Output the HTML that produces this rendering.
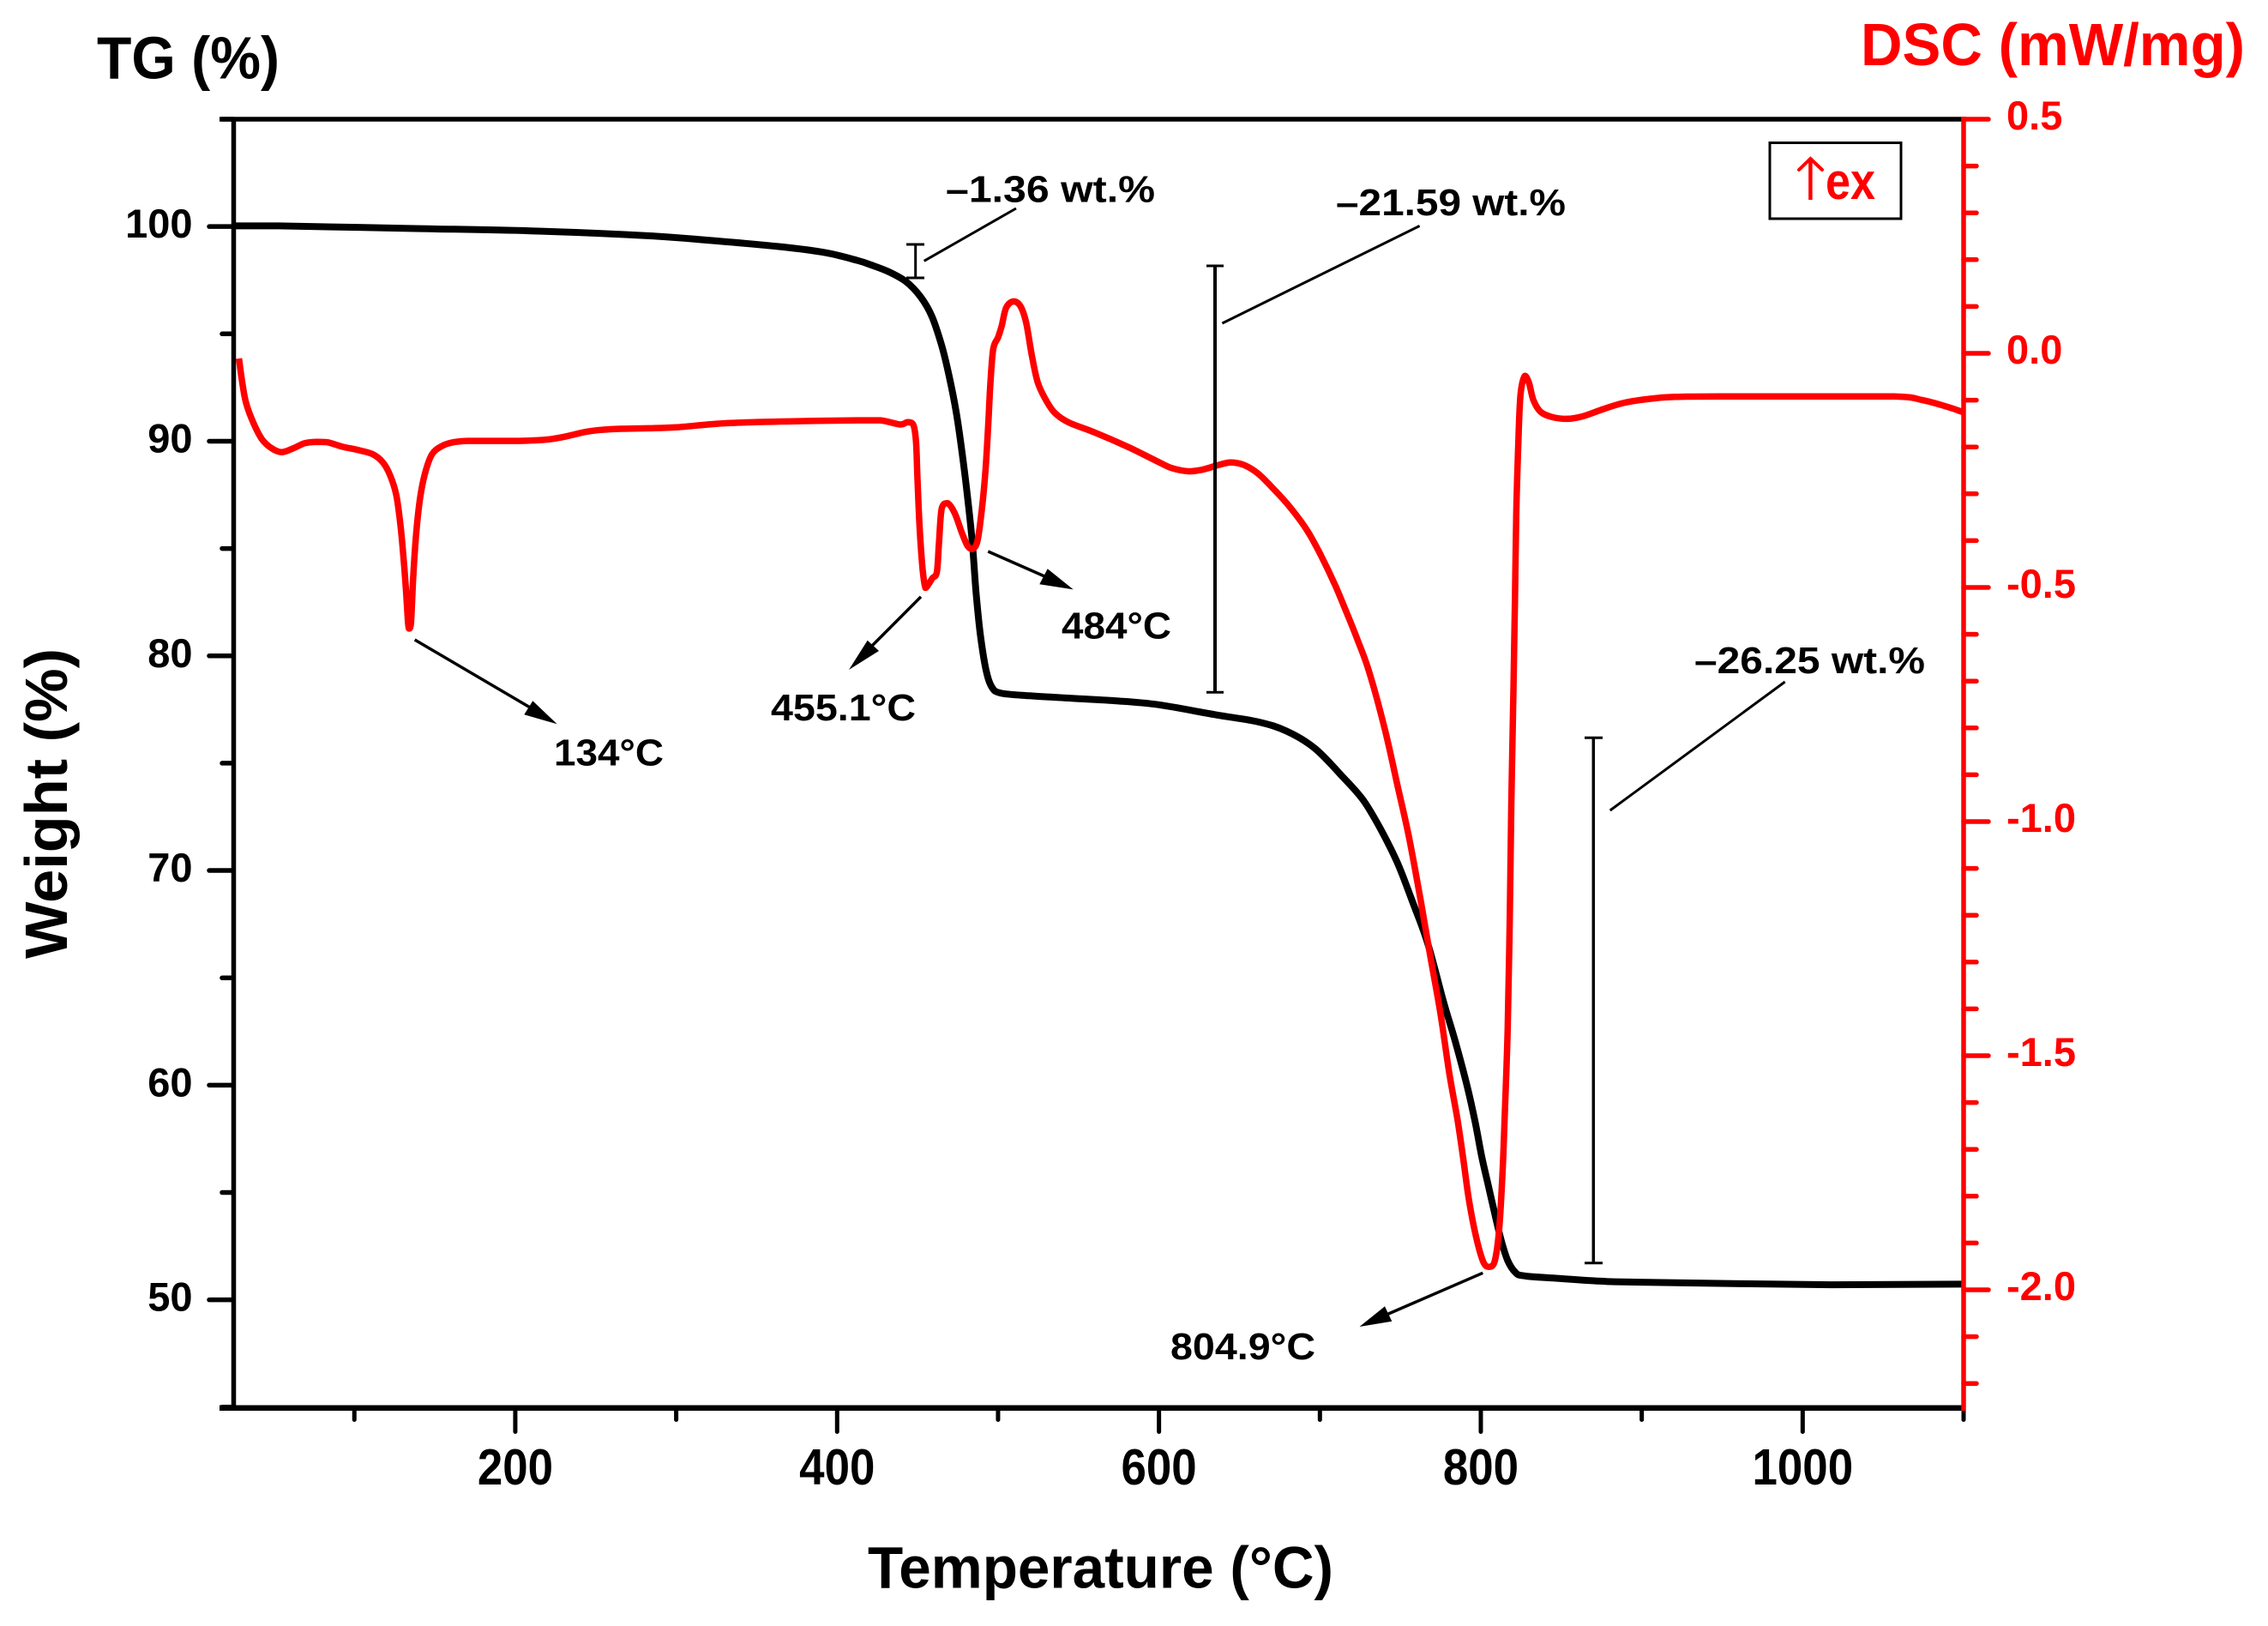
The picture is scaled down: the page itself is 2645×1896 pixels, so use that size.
<!DOCTYPE html>
<html lang="en">
<head>
<meta charset="utf-8">
<title>TG and DSC curves</title>
<style>
  html, body { margin: 0; padding: 0; background: #fff; }
  svg { display: block; }
  text { font-family: "Liberation Sans", sans-serif; font-weight: bold; }
</style>
</head>
<body>
<svg id="chart" xmlns="http://www.w3.org/2000/svg" width="2645" height="1896" viewBox="0 0 2645 1896">
  <rect x="0" y="0" width="2645" height="1896" fill="#fff"/>

  <g id="series-layer"></g>
  <g id="axis-layer"></g>

  <text x="113" y="91.5" font-size="70" textLength="213" lengthAdjust="spacingAndGlyphs" fill="#000">TG (%)</text>
  <text x="2170" y="76" font-size="70" textLength="448" lengthAdjust="spacingAndGlyphs" fill="#f00">DSC (mW/mg)</text>
  <text transform="translate(78 1118) rotate(-90)" font-size="70" textLength="362" lengthAdjust="spacingAndGlyphs" fill="#000">Weight (%)</text>
  <text x="1012" y="1851.5" font-size="69" textLength="543" lengthAdjust="spacingAndGlyphs" fill="#000">Temperature (°C)</text>

  <g>
    <rect x="2064" y="166.5" width="153" height="88.5" fill="#fff" stroke="#000" stroke-width="3"/>
    <polyline points="2111.4,233 2111.4,185" fill="none" stroke="#f00" stroke-width="4.5"/>
    <polyline points="2098,198 2111.4,185 2125,198" fill="none" stroke="#f00" stroke-width="4" stroke-linecap="round"/>
    <text x="2129" y="232" font-size="60" textLength="58" lengthAdjust="spacingAndGlyphs" fill="#f00">ex</text>
  </g>

  <g stroke="#000" fill="none">
    <g stroke-width="3">
      <line x1="1067.7" y1="285" x2="1067.7" y2="324"/>
      <line x1="1057" y1="285" x2="1078" y2="285"/>
      <line x1="1057" y1="324" x2="1078" y2="324"/>
      <line x1="1077.7" y1="304.3" x2="1185" y2="243"/>
    </g>
    <g>
      <line stroke-width="4" x1="1417" y1="310" x2="1417" y2="807.3"/>
      <line stroke-width="3" x1="1407" y1="310" x2="1427" y2="310"/>
      <line stroke-width="3" x1="1407" y1="807.3" x2="1427" y2="807.3"/>
      <line stroke-width="3" x1="1425.4" y1="377" x2="1655.6" y2="263.4"/>
    </g>
    <g>
      <line stroke-width="3.5" x1="1858.3" y1="860.3" x2="1858.3" y2="1472.7"/>
      <line stroke-width="3" x1="1848" y1="860.3" x2="1869" y2="860.3"/>
      <line stroke-width="3" x1="1848" y1="1472.7" x2="1869" y2="1472.7"/>
      <line stroke-width="3" x1="1877.7" y1="945" x2="2081.7" y2="795"/>
    </g>
  </g>
  <g fill="#000" font-size="44">
    <text x="1103" y="235.7" textLength="244" lengthAdjust="spacingAndGlyphs">–1.36 wt.%</text>
    <text x="1558" y="251" textLength="268" lengthAdjust="spacingAndGlyphs">–21.59 wt.%</text>
    <text x="1976" y="785" textLength="269" lengthAdjust="spacingAndGlyphs">–26.25 wt.%</text>
  </g>

  <g>
    <g>
      <line x1="483.7" y1="746" x2="625" y2="829" stroke="#000" stroke-width="3.5"/>
      <polygon points="649.7,844.3 621.3,817.3 611.3,833.3" fill="#000"/>
    </g>
    <g>
      <line x1="1074" y1="695.8" x2="1010" y2="760" stroke="#000" stroke-width="3.5"/>
      <polygon points="990,781 1011.7,746.7 1025,759" fill="#000"/>
    </g>
    <g>
      <line x1="1152.3" y1="643" x2="1225" y2="675" stroke="#000" stroke-width="3.5"/>
      <polygon points="1251.7,687.4 1221.7,663.3 1212.3,681.3" fill="#000"/>
    </g>
    <g>
      <line x1="1729.3" y1="1484.3" x2="1610" y2="1536" stroke="#000" stroke-width="3.5"/>
      <polygon points="1585.5,1547 1615,1523.3 1623.3,1540.7" fill="#000"/>
    </g>
  </g>
  <g fill="#000" font-size="44">
    <text x="646" y="892.3" textLength="128" lengthAdjust="spacingAndGlyphs">134°C</text>
    <text x="899" y="840" textLength="169" lengthAdjust="spacingAndGlyphs">455.1°C</text>
    <text x="1238" y="744.3" textLength="128" lengthAdjust="spacingAndGlyphs">484°C</text>
    <text x="1365" y="1585" textLength="169" lengthAdjust="spacingAndGlyphs">804.9°C</text>
  </g>
</svg>

<script>
// ---- data ----
var tgTemperature = [25,27.6,53,134.7,209.4,280.8,321.5,365.8,392.9,412.6,421.5,432.2,442.9,451.7,458.8,465,469.5,473.9,477.5,481,484,486.3,489,492.6,496.1,501.5,519.2,545.9,572.5,599.1,634.7,661.3,679.1,696.7,714.6,727,737.7,748.3,757.2,767,776.6,783.9,791,796.3,800.7,805.2,809.6,813.2,816.7,821.2,826.5,847.8,874.5,892.2,1017.7,1100];
var tgWeight = [100.03,100.03,100.03,99.91,99.80,99.58,99.35,99.05,98.78,98.42,98.20,97.89,97.43,96.74,95.83,94.45,93.07,91.39,89.56,87.42,85.28,82.99,80.99,79.31,78.55,78.27,78.14,78.02,77.91,77.73,77.26,76.93,76.50,75.70,74.33,73.27,71.93,70.34,68.61,66.61,63.94,62.09,60.10,58.35,56.62,55.15,53.70,52.63,51.83,51.30,51.12,51.00,50.87,50.83,50.70,50.73];

var dscTemperature = [28.3,30.1,32.7,37.2,42.5,48.7,54.9,62,69.1,76.3,83.3,92.2,102.9,111.7,118,122.4,126,128.3,130.1,131.8,133.4,134.1,135.2,136.6,138.4,140.7,143.7,148.2,154.4,161.5,170.4,184.6,202.3,220.1,230.8,245,259.2,282.3,300,331.7,372.7,412.6,426.9,439.3,443.7,447.3,449,449.9,451.2,453.1,454.9,457,459.2,462,463.3,465,468.6,473,477.5,481,484,487.2,489.9,492.2,493.8,495.2,497,500,502.3,505,509.5,513.9,517.5,521,524.5,529,535.2,544.1,560.1,581.4,599.1,608,618.7,627.5,636.4,644.4,652.4,661.3,670.2,680.8,691.5,700.4,709.3,716.4,723.5,730.6,740.3,748.3,755.4,762.6,768.8,775,780.3,785.6,789.2,792.7,797.2,801.6,805.2,808.7,811.4,813.5,814.9,816.7,818,819,820.3,821.2,822,823.3,824.7,827.4,830,832.7,837.2,844.3,853.2,863.8,876.2,888.6,902.9,920.6,956.2,991.7,1056.8,1074.5,1089.6,1100];
var dscHeatFlow = [-0.011,-0.057,-0.106,-0.148,-0.183,-0.203,-0.211,-0.203,-0.192,-0.189,-0.190,-0.199,-0.207,-0.216,-0.234,-0.262,-0.302,-0.357,-0.418,-0.491,-0.576,-0.588,-0.576,-0.478,-0.386,-0.313,-0.259,-0.216,-0.198,-0.190,-0.187,-0.187,-0.187,-0.184,-0.178,-0.167,-0.162,-0.160,-0.158,-0.149,-0.145,-0.143,-0.143,-0.152,-0.147,-0.152,-0.187,-0.264,-0.369,-0.460,-0.501,-0.492,-0.480,-0.467,-0.404,-0.331,-0.320,-0.341,-0.383,-0.411,-0.418,-0.401,-0.334,-0.250,-0.159,-0.068,0.009,0.034,0.059,0.097,0.111,0.101,0.065,-0.005,-0.060,-0.095,-0.127,-0.148,-0.169,-0.201,-0.231,-0.245,-0.252,-0.248,-0.239,-0.233,-0.238,-0.256,-0.286,-0.326,-0.375,-0.430,-0.494,-0.552,-0.613,-0.680,-0.802,-0.924,-1.034,-1.168,-1.291,-1.412,-1.535,-1.639,-1.723,-1.810,-1.889,-1.941,-1.951,-1.938,-1.870,-1.749,-1.626,-1.443,-1.199,-0.955,-0.711,-0.527,-0.344,-0.192,-0.088,-0.048,-0.064,-0.100,-0.125,-0.136,-0.140,-0.134,-0.119,-0.106,-0.098,-0.093,-0.092,-0.092,-0.092,-0.100,-0.114,-0.126];

var xMajorTicks = [200,400,600,800,1000];
var xMinorTicks = [100,300,500,700,900,1100];
var yMajorTicks = [100,90,80,70,60,50];
var yMinorTicks = [105,95,85,75,65,55,45];
var dscMajorTicks = [0.5,0,-0.5,-1,-1.5,-2];
var dscMinorTicks = [0.4,0.3,0.2,0.1,-0.1,-0.2,-0.3,-0.4,-0.6,-0.7,-0.8,-0.9,-1.1,-1.2,-1.3,-1.4,-1.6,-1.7,-1.8,-1.9,-2.1,-2.2];
var dscMajorLabels = ['0.5','0.0','-0.5','-1.0','-1.5','-2.0'];

// ---- axis functions ----
function xScale(t) { return 272.5 + (t - 25) * (2290 - 272.5) / (1100 - 25); }
function yScale(w) { return 139 + (105 - w) * 25.03; }
function dscScale(d) { return 139 + (0.5 - d) * 546; }

var NS = 'http://www.w3.org/2000/svg';
var seriesLayer = document.getElementById('series-layer');
var axisLayer = document.getElementById('axis-layer');

function mk(tag, attrs, parent) {
  var e = document.createElementNS(NS, tag);
  for (var k in attrs) { e.setAttribute(k, attrs[k]); }
  parent.appendChild(e);
  return e;
}
function clamp(v, a, b) {
  return Math.max(Math.min(a, b), Math.min(Math.max(a, b), v));
}
// smooth curve through the data points, with control points kept between neighbours
function curvePath(xs, ys, fx, fy) {
  var px = xs.map(fx);
  var py = ys.map(fy);
  var n = px.length;
  var d = 'M' + px[0].toFixed(1) + ' ' + py[0].toFixed(1);
  for (var i = 0; i < n - 1; i++) {
    var a = Math.max(i - 1, 0);
    var b = Math.min(i + 2, n - 1);
    var c1x = clamp(px[i] + (px[i + 1] - px[a]) / 6, px[i], px[i + 1]);
    var c1y = clamp(py[i] + (py[i + 1] - py[a]) / 6, py[i], py[i + 1]);
    var c2x = clamp(px[i + 1] - (px[b] - px[i]) / 6, px[i], px[i + 1]);
    var c2y = clamp(py[i + 1] - (py[b] - py[i]) / 6, py[i], py[i + 1]);
    d += 'C' + c1x.toFixed(1) + ' ' + c1y.toFixed(1) + ' ' + c2x.toFixed(1) + ' ' + c2y.toFixed(1) + ' ' + px[i + 1].toFixed(1) + ' ' + py[i + 1].toFixed(1);
  }
  return d;
}

var el;

// series
el = mk('path', {d: curvePath(tgTemperature, tgWeight, xScale, yScale), fill: 'none', stroke: '#000', 'stroke-width': 8, 'stroke-linejoin': 'round'}, seriesLayer);



el = mk('path', {d: curvePath(dscTemperature, dscHeatFlow, xScale, dscScale), fill: 'none', stroke: '#f00', 'stroke-width': 7.5, 'stroke-linejoin': 'round'}, seriesLayer);



// axis lines
el = mk('line', {x1: 256, y1: 139, x2: 2290, y2: 139, stroke: '#000', 'stroke-width': 5.5}, axisLayer);



el = mk('line', {x1: 272.5, y1: 139, x2: 272.5, y2: 1641, stroke: '#000', 'stroke-width': 5.5}, axisLayer);



el = mk('line', {x1: 256, y1: 1641.7, x2: 2290, y2: 1641.7, stroke: '#000', 'stroke-width': 6.5}, axisLayer);



// x ticks
xMinorTicks.forEach(function (v) {
  var t = mk('line', {x1: xScale(v), y1: 1641, x2: xScale(v), y2: 1655.5, stroke: '#000', 'stroke-width': 5, 'stroke-linecap': 'round'}, axisLayer);
  
  
});
xMajorTicks.forEach(function (v) {
  var t = mk('line', {x1: xScale(v), y1: 1641, x2: xScale(v), y2: 1669.5, stroke: '#000', 'stroke-width': 5, 'stroke-linecap': 'round'}, axisLayer);
  
  
  var s = String(v);
  var lbl = mk('text', {x: xScale(v), y: 1731, 'font-size': 59, 'text-anchor': 'middle', fill: '#000', textLength: s.length * 29.4, lengthAdjust: 'spacingAndGlyphs'}, axisLayer);
  lbl.textContent = s;
  
  
});

// left ticks
yMinorTicks.forEach(function (v) {
  var t = mk('line', {x1: 272, y1: yScale(v), x2: 259, y2: yScale(v), stroke: '#000', 'stroke-width': 5.5, 'stroke-linecap': 'round'}, axisLayer);
  
  
});
yMajorTicks.forEach(function (v) {
  var t = mk('line', {x1: 272, y1: yScale(v), x2: 244, y2: yScale(v), stroke: '#000', 'stroke-width': 5.5, 'stroke-linecap': 'round'}, axisLayer);
  
  
  var lbl = mk('text', {x: 224.5, y: yScale(v) + 13, 'font-size': 47, 'text-anchor': 'end', fill: '#000'}, axisLayer);
  lbl.textContent = String(v);
  
  
});

// right axis (red)
el = mk('line', {x1: 2290, y1: 136, x2: 2290, y2: 1645, stroke: '#f00', 'stroke-width': 5.5}, axisLayer);



dscMinorTicks.forEach(function (v) {
  var t = mk('line', {x1: 2290, y1: dscScale(v), x2: 2305, y2: dscScale(v), stroke: '#f00', 'stroke-width': 5.5, 'stroke-linecap': 'round'}, axisLayer);
  
  
});
dscMajorTicks.forEach(function (v, i) {
  var t = mk('line', {x1: 2290, y1: dscScale(v), x2: 2319, y2: dscScale(v), stroke: '#f00', 'stroke-width': 5.5, 'stroke-linecap': 'round'}, axisLayer);
  
  
  var lbl = mk('text', {x: 2340, y: dscScale(v) + 12, 'font-size': 47, fill: '#f00'}, axisLayer);
  lbl.textContent = dscMajorLabels[i];
  
  
});
</script>
</body>
</html>
